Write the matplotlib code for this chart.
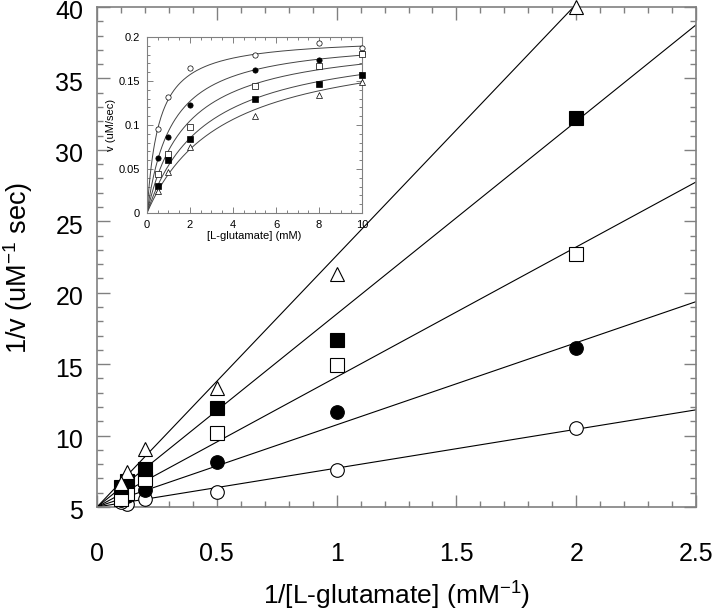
import numpy as np
import matplotlib
matplotlib.use("Agg")
import matplotlib.pyplot as plt
from matplotlib.ticker import MultipleLocator, FuncFormatter
from matplotlib.transforms import ScaledTranslation

plt.rcParams['font.family'] = ['Liberation Sans', 'DejaVu Sans']
plt.rcParams['mathtext.fontset'] = 'custom'
plt.rcParams['mathtext.rm'] = 'Liberation Sans'
plt.rcParams['mathtext.it'] = 'Liberation Sans'

# substrate concentrations (mM)
glutamate = [0.5, 1, 2, 5, 8, 10]
# initial velocities (uM/sec) per inhibitor level
v_open_circle = [0.095, 0.132, 0.165, 0.180, 0.193, 0.187]
v_filled_circle = [0.062, 0.086, 0.123, 0.162, 0.174, 0.182]
v_open_square = [0.044, 0.067, 0.098, 0.144, 0.167, 0.181]
v_filled_square = [0.031, 0.060, 0.084, 0.130, 0.147, 0.157]
v_open_triangle = [0.025, 0.047, 0.075, 0.110, 0.134, 0.149]
# fitted parameters (competitive inhibition, shared Vmax)
vmax = 0.2
km_fits = [0.544, 1.15, 1.82, 2.70, 3.52]

series = [
    (v_open_circle, 'o', 'white'),
    (v_filled_circle, 'o', 'black'),
    (v_open_square, 's', 'white'),
    (v_filled_square, 's', 'black'),
    (v_open_triangle, '^', 'white'),
]

fig = plt.figure(figsize=(7.16, 6.14), dpi=100)
ax = fig.add_axes([0.1355, 0.1743, 0.8366, 0.8143])
spine_col = '#808080'

inv_s = 1.0 / np.array(glutamate)
xl = np.linspace(0, 2.5, 50)
for km in km_fits:
    ax.plot(xl, 1.0 / vmax + (km / vmax) * xl, color='black', lw=0.8, zorder=2)
for vals, mk, fc in series:
    inv_v = 1.0 / np.array(vals)
    ms = 10.5 if mk == '^' else 9.8
    ax.plot(inv_s, inv_v, linestyle='none', marker=mk, ms=ms, mfc=fc,
            mec='black', mew=0.8, clip_on=False, zorder=3)

ax.set_xlim(0, 2.5)
ax.set_ylim(5, 40)
ax.xaxis.set_major_locator(MultipleLocator(0.5))
ax.xaxis.set_minor_locator(MultipleLocator(0.1))
ax.yaxis.set_major_locator(MultipleLocator(5))
ax.yaxis.set_minor_locator(MultipleLocator(1))
fmt = FuncFormatter(lambda v, p: '%g' % v)
ax.xaxis.set_major_formatter(fmt)
ax.yaxis.set_major_formatter(fmt)
ax.tick_params(which='both', direction='in', top=True, right=True,
               color=spine_col, width=1)
ax.tick_params(which='major', length=9, labelsize=18)
ax.tick_params(which='minor', length=4.5)
ax.tick_params(axis='x', which='major', pad=25)
ax.tick_params(axis='y', which='major', pad=10)
for s in ax.spines.values():
    s.set_color(spine_col)
    s.set_linewidth(1.2)
ax.set_xlabel('1/[L-glutamate] (mM$^{\\mathregular{-1}}$)', fontsize=19, labelpad=10)
ax.set_ylabel('1/v (uM$^{\\mathregular{-1}}$ sec)', fontsize=19.5)
ax.yaxis.set_label_coords(-0.103, 0.478)

# inset
ins = fig.add_axes([0.2053, 0.6531, 0.3003, 0.2866])
xs = np.linspace(0, 10, 200)
for km in km_fits:
    ins.plot(xs, vmax * xs / (km + xs), color='#444444', lw=0.7, zorder=2)
for vals, mk, fc in series:
    ins.plot(glutamate, vals, linestyle='none', marker=mk, ms=3.8, mfc=fc,
             mec='black', mew=0.5, clip_on=False, zorder=3)
ins.set_xlim(0, 10)
ins.set_ylim(0, 0.2)
ins.xaxis.set_major_locator(MultipleLocator(2))
ins.xaxis.set_minor_locator(MultipleLocator(0.5))
ins.yaxis.set_major_locator(MultipleLocator(0.05))
ins.yaxis.set_minor_locator(MultipleLocator(0.01))
ins.xaxis.set_major_formatter(fmt)
ins.yaxis.set_major_formatter(fmt)
ins.tick_params(which='both', direction='in', top=True, right=True,
                color=spine_col, width=0.7, labelsize=8)
ins.tick_params(which='major', length=4.5, pad=5)
ins.tick_params(which='minor', length=2.2)
for s in ins.spines.values():
    s.set_color(spine_col)
    s.set_linewidth(0.8)
ins.set_xlabel('[L-glutamate] (mM)', fontsize=8, labelpad=0.5)
ins.set_ylabel('v (uM/sec)', fontsize=8, labelpad=2)

fig.canvas.draw()
shift = ScaledTranslation(0, -3 / 100, fig.dpi_scale_trans)
for lab in ax.get_yticklabels():
    lab.set_transform(lab.get_transform() + shift)

fig.savefig('out.png', dpi=100)
